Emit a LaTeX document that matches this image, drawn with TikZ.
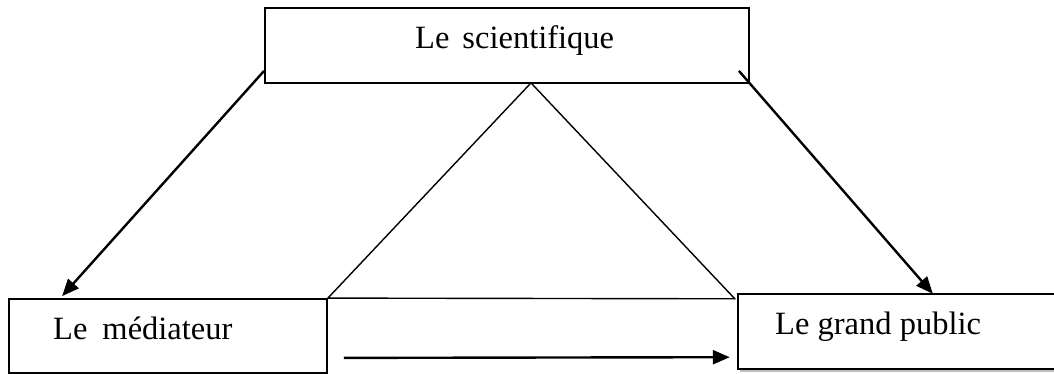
\documentclass[tikz,border=0pt]{standalone}
\usepackage{fontspec}
\setmainfont{Liberation Serif}
\usetikzlibrary{arrows.meta,shadows}
\tikzset{
    box/.style={draw,line width=1.8pt,inner sep=0pt},
    txt/.style={anchor=base west,inner sep=0pt,font=\fontsize{32.5}{39}\selectfont},
    arr/.style={line width=2.4pt,-{Triangle[length=17pt,width=14pt]}},
}

\begin{document}
\begin{tikzpicture}[x=1pt,y=1pt]
    \useasboundingbox (0,0) rectangle (1054,374);
    \node[box,minimum width=484pt,minimum height=75pt] (sci) at (507,328.5) {};
    \node[box,minimum width=318pt,minimum height=74pt] (med) at (168,38) {};
    \node[inner sep=0pt,fill=white,minimum width=340pt,minimum height=75pt,drop shadow={shadow xshift=2pt,shadow yshift=-3pt,fill=gray}] (pub) at (908,42.5) {};
    \draw[line width=1.8pt] (pub.north east)--(pub.north west)--(pub.south west)--(pub.south east);
    \node[txt] (scitxt) at (415,325) {Le\hspace{13pt}scientifique};
    \node[txt] (medtxt) at (53,34) {Le\hspace{15pt}médiateur};
    \node[txt] (pubtxt) at (775,39) {Le grand public};
    \coordinate (apex) at ([shift={(24,1)}]sci.south);
    \coordinate (foot) at ([shift={(-3,-5)}]pub.north west);
    \draw[line width=1.4pt,line join=miter] (apex)--(med.north east)--(foot)--cycle;
    \draw[arr] ([shift={(0,13)}]sci.south west)--([shift={(54,2)}]med.north west);
    \draw[arr] ([shift={(-11,13)}]sci.south east)--([shift={(195,0)}]pub.north west);
    \draw[arr] ([shift={(16,16)}]med.south east)--([shift={(-8,12)}]pub.south west);
\end{tikzpicture}
\end{document}
